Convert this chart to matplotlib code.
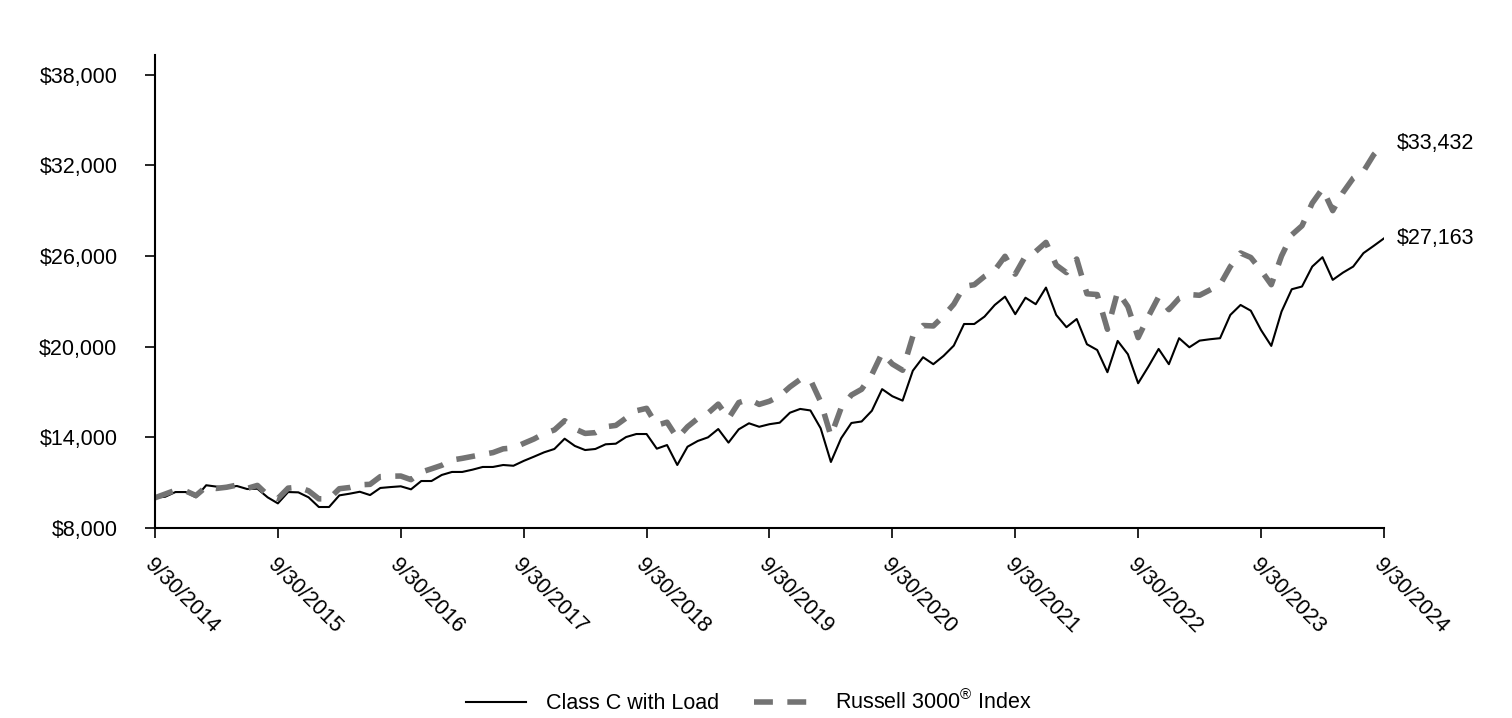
import matplotlib
matplotlib.use('Agg')
import matplotlib.pyplot as plt
import matplotlib.ticker as tkr

plt.rcParams['font.family'] = ['Liberation Sans', 'DejaVu Sans']
plt.rcParams['mathtext.fontset'] = 'custom'
plt.rcParams['mathtext.rm'] = 'Liberation Sans'
plt.rcParams['mathtext.it'] = 'Liberation Sans'

# month-end values, 9/30/2014 .. 9/30/2024
class_c = [
    10000, 10070, 10380, 10380, 10030, 10830, 10740, 10690, 10780, 10580,
    10600, 10030, 9630, 10380, 10360, 10030, 9390, 9390, 10160, 10270,
    10400, 10180, 10650, 10710, 10760, 10560, 11110, 11110, 11510, 11710,
    11710, 11860, 12040, 12040, 12170, 12120, 12440, 12720, 13010, 13230,
    13910, 13430, 13160, 13230, 13540, 13580, 14020, 14220, 14220, 13250,
    13490, 12170, 13380, 13760, 14000, 14550, 13650, 14530, 14930, 14700,
    14870, 14970, 15630, 15880, 15780, 14600, 12370, 13940, 14950, 15050,
    15760, 17190, 16720, 16430, 18410, 19300, 18840, 19390, 20070, 21500,
    21500, 21990, 22760, 23310, 22150, 23240, 22810, 23910, 22100, 21290,
    21830, 20160, 19780, 18310, 20380, 19500, 17580, 18680, 19850, 18840,
    20560, 19960, 20400, 20490, 20560, 22100, 22760, 22380, 21100, 20050,
    22320, 23800, 23980, 25300, 25920, 24420, 24900, 25300, 26190, 26670,
    27163,
]
russell = [
    10000, 10250, 10500, 10450, 10150, 10730, 10620, 10700, 10840, 10620,
    10820, 10180, 9950, 10640, 10700, 10460, 9930, 9930, 10600, 10680,
    10860, 10890, 11400, 11430, 11440, 11200, 11700, 11920, 12150, 12500,
    12610, 12740, 12870, 12990, 13240, 13300, 13600, 13890, 14250, 14490,
    15100, 14560, 14260, 14310, 14700, 14790, 15280, 15760, 15920, 14800,
    15000, 13950, 14700, 15250, 15600, 16200, 15250, 16300, 16520, 16180,
    16390, 16740, 17340, 17830, 17810, 16350, 14090, 15950, 16800, 17180,
    18160, 19580, 18850, 18440, 20690, 21400, 21370, 22030, 22810, 23990,
    24100, 24650, 25060, 25980, 24800, 26000, 26300, 26900, 25400, 24900,
    25800, 23500, 23450, 21150, 23650, 22650, 20600, 22000, 23300, 22450,
    23200, 23450, 23400, 23750, 24100, 25300, 26200, 25900, 25050, 24100,
    26000, 27400, 28000, 29500, 30450, 29000, 30200, 31150, 31600, 32700,
    33432,
]
year_labels = ['9/30/2014', '9/30/2015', '9/30/2016', '9/30/2017', '9/30/2018',
               '9/30/2019', '9/30/2020', '9/30/2021', '9/30/2022', '9/30/2023',
               '9/30/2024']

months = list(range(len(class_c)))
fs = 15.5

fig = plt.figure(figsize=(15.12, 7.18), dpi=100)
ax = fig.add_axes([0.1025, 0.2646, 0.8128, 0.6588])

ax.plot(months, class_c, color='black', lw=1.5, label='Class C with Load')
ax.plot(months, russell, color='#737373', lw=4, dashes=(3.4, 2.6),
        label='Russell 3000$^{®}$ Index')

ax.set_xlim(0, 120)
ax.set_ylim(8000, 39300)
ax.set_yticks(range(8000, 38001, 6000))
ax.yaxis.set_major_formatter(tkr.FuncFormatter(lambda v, p: '${:,.0f}'.format(v)))
ax.set_xticks(range(0, 121, 12))
ax.set_xticklabels(year_labels, rotation=-45, ha='left', va='top',
                   rotation_mode='anchor')

for s in ['top', 'right']:
    ax.spines[s].set_visible(False)
for s in ['left', 'bottom']:
    ax.spines[s].set_linewidth(1.5)
ax.tick_params(axis='both', labelsize=fs, width=1.2, length=7, direction='out')
ax.tick_params(axis='x', pad=12)
ax.tick_params(axis='y', pad=20)

ax.annotate('${:,.0f}'.format(russell[-1]), xy=(120, russell[-1]),
            xytext=(9, 0), textcoords='offset points', va='center',
            fontsize=fs, annotation_clip=False)
ax.annotate('${:,.0f}'.format(class_c[-1]), xy=(120, class_c[-1]),
            xytext=(9, 0), textcoords='offset points', va='center',
            fontsize=fs, annotation_clip=False)

leg = fig.legend(loc='center', bbox_to_anchor=(0.495, 0.022), ncol=2,
                 frameon=False, fontsize=fs, handlelength=2.8,
                 columnspacing=1.6, handletextpad=0.95)

plt.savefig('out.png', dpi=100)
